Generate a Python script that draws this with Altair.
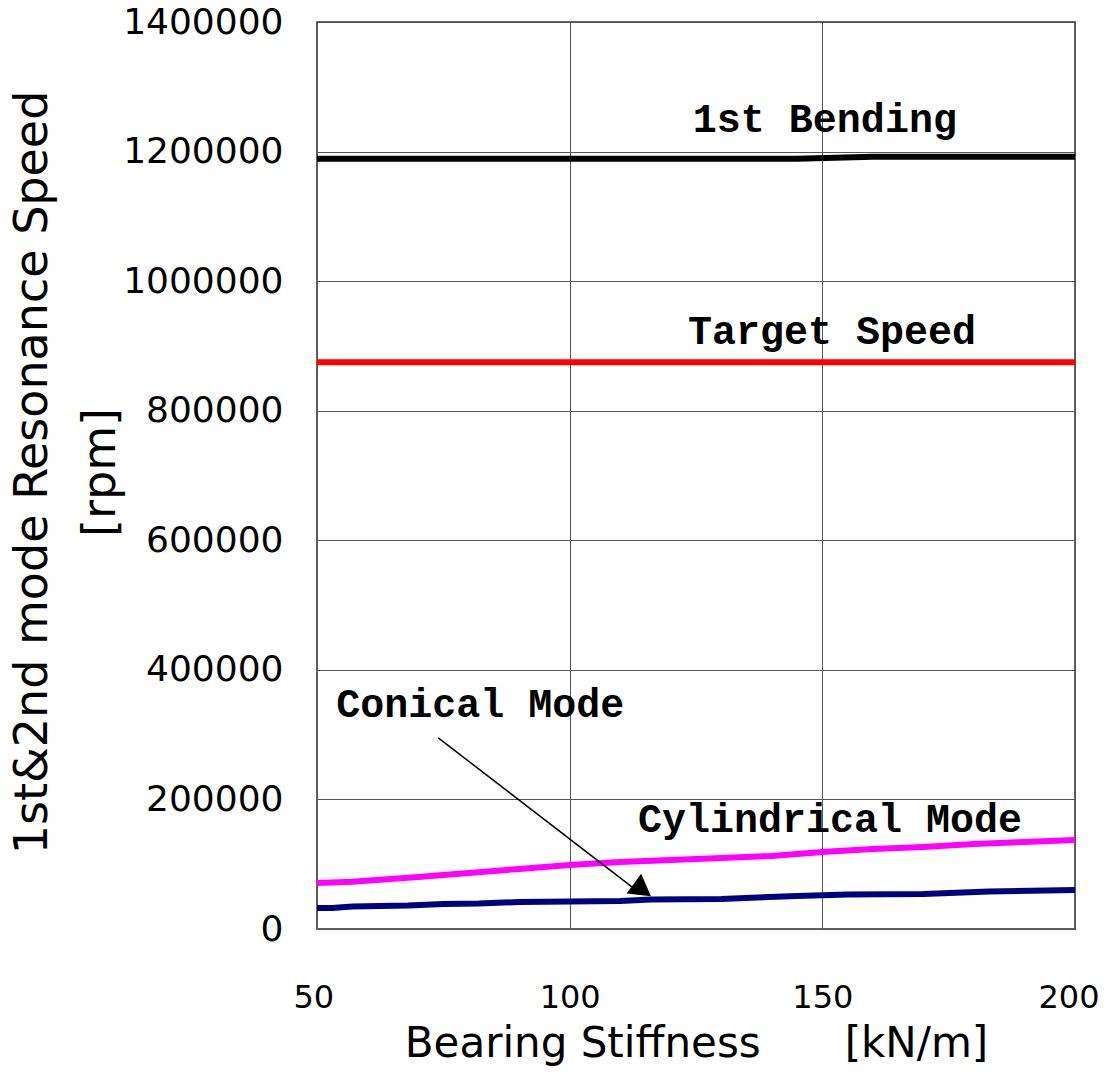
import altair as alt
import pandas as pd

# ---- data ----
bend_x = [50, 100, 145, 160, 200]
bend_y = [1189000, 1189000, 1189000, 1192000, 1192000]

target_x = [50, 200]
target_y = [875000, 875000]

cyl_x = [50, 57, 70, 80, 90, 100, 110, 120, 130, 140, 150, 160, 170, 180, 190, 200]
cyl_y = [71000, 73000, 80300, 86500, 92700, 98800, 103500, 106600, 109700, 112700,
         118900, 123600, 126600, 131300, 134400, 137500]

con_x = [50, 53, 57, 68, 75, 82, 90, 100, 110, 116, 130, 145, 155, 170, 183, 200]
con_y = [32400, 32400, 34700, 36300, 38600, 39400, 41700, 42500, 43200, 45600,
         46300, 51000, 53300, 54000, 57900, 60200]

series_names = ["1st Bending", "Target Speed", "Cylindrical Mode", "Conical Mode"]
series_colors = ["#000000", "#FF0000", "#FF00FF", "#000080"]

label_text = ["1st Bending", "Target Speed", "Conical Mode", "Cylindrical Mode"]
label_x = [150.5, 151.9, 82.3, 151.5]
label_y = [1249000, 922000, 346000, 168300]

arrow_x = [74, 112.5]
arrow_y = [295000, 64000]
head_x = [114.4]
head_y = [60400]

x_ticks = [50, 100, 150, 200]
y_ticks = [0, 200000, 400000, 600000, 800000, 1000000, 1200000, 1400000]

rows = []
for name, xs, ys in [("1st Bending", bend_x, bend_y),
                     ("Target Speed", target_x, target_y),
                     ("Cylindrical Mode", cyl_x, cyl_y),
                     ("Conical Mode", con_x, con_y)]:
    for i, (a, b) in enumerate(zip(xs, ys)):
        rows.append({"series": name, "x": a, "y": b, "order": i})
df = pd.DataFrame(rows)

labels_df = pd.DataFrame({"text": label_text, "x": label_x, "y": label_y})
arrow_df = pd.DataFrame({"x": [arrow_x[0]], "y": [arrow_y[0]], "x2": [arrow_x[1]], "y2": [arrow_y[1]]})
head_df = pd.DataFrame({"x": head_x, "y": head_y})

xscale = alt.Scale(domain=[50, 200], nice=False, zero=False)
yscale = alt.Scale(domain=[0, 1400000], nice=False)

xaxis = alt.Axis(values=x_ticks, title="Bearing Stiffness\u3000\u3000[kN/m]",
                 labelFont="DejaVu Sans", labelFontSize=32, labelColor="#000",
                 labelPadding=53, ticks=False, domain=False,
                 labelFlush=True, labelFlushOffset=24,
                 titleFont="DejaVu Sans", titleFontSize=42, titleFontWeight="normal",
                 titleColor="#000", titlePadding=10, gridColor="#555", gridWidth=1)
yaxis = alt.Axis(values=y_ticks, format="d",
                 title=["1st&2nd mode Resonance Speed", "[rpm]"],
                 labelFont="DejaVu Sans", labelFontSize=36, labelColor="#000",
                 labelPadding=34, ticks=False, domain=False,
                 titleFont="DejaVu Sans", titleFontSize=46, titleFontWeight="normal",
                 titleColor="#000", titleAngle=-90, titleAlign="center",
                 titleBaseline="top", titleX=-307, titleY=450, titleLineHeight=68,
                 gridColor="#555", gridWidth=1, labelFlush=False)

lines = alt.Chart(df).mark_line(strokeWidth=6).encode(
    x=alt.X("x:Q", scale=xscale, axis=xaxis),
    y=alt.Y("y:Q", scale=yscale, axis=yaxis),
    color=alt.Color("series:N", scale=alt.Scale(domain=series_names, range=series_colors), legend=None),
    order="order:Q",
    detail="series:N",
)

texts = alt.Chart(labels_df).mark_text(font="Liberation Mono", fontWeight="bold",
                                       fontSize=40, color="#000", align="center",
                                       baseline="middle").encode(
    x=alt.X("x:Q", scale=xscale), y=alt.Y("y:Q", scale=yscale), text="text:N")

arrow = alt.Chart(arrow_df).mark_rule(color="#000", strokeWidth=1.5).encode(
    x=alt.X("x:Q", scale=xscale), y=alt.Y("y:Q", scale=yscale), x2="x2:Q", y2="y2:Q")

head = alt.Chart(head_df).mark_point(shape="triangle-right", filled=True, color="#000",
                                     size=600, angle=36.5, opacity=1).encode(
    x=alt.X("x:Q", scale=xscale), y=alt.Y("y:Q", scale=yscale))

chart = alt.layer(lines, arrow, head, texts).properties(
    width=758, height=907,
    autosize=alt.AutoSizeParams(type="none"),
    padding={"left": 309, "top": 14, "right": 28, "bottom": 140},
    background="#ffffff",
).configure_view(stroke="#333", strokeWidth=1.5)

chart.save("out.html", embed_options={"renderer": "svg", "actions": False})
